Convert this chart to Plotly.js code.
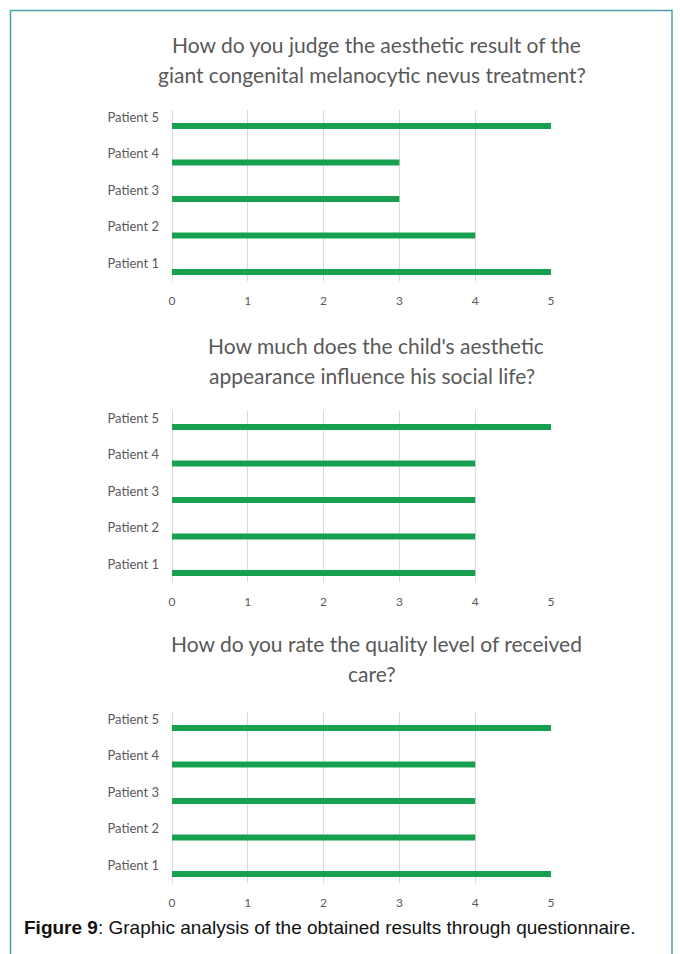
<!DOCTYPE html>
<html>
<head>
<meta charset="utf-8">
<script src="https://cdn.plot.ly/plotly-3.0.1.min.js"></script>
<style>
html,body{margin:0;padding:0;background:#fff;}
#chart{width:680px;height:954px;}
</style>
</head>
<body>
<div id="chart"></div>
<script>
const patients = ['Patient 1', 'Patient 2', 'Patient 3', 'Patient 4', 'Patient 5'];
const q1Values = [5, 4, 3, 3, 5];
const q2Values = [4, 4, 4, 4, 5];
const q3Values = [5, 4, 4, 4, 5];
const xTicks = [0, 1, 2, 3, 4, 5];
const titles = [
  'How do you judge the aesthetic result of the<br>giant congenital melanocytic nevus treatment?',
  "How much does the child's aesthetic<br>appearance influence his social life?",
  'How do you rate the quality level of received<br>care?'
];
const captionText = '<b>Figure 9</b>: Graphic analysis of the obtained results through questionnaire.';

const W = 680, H = 954;
const fy = p => 1 - p / H;
const fx = p => p / W;

const green = '#17a04f';
const gray = '#595959';
const series = [q1Values, q2Values, q3Values];
// pixel layout of the three plot areas (top, bottom)
const panels = [
  {top: 109.6, bottom: 281.2, t1: 45, t2: 75},
  {top: 410.6, bottom: 582.2, t1: 345, t2: 375},
  {top: 711.6, bottom: 883.2, t1: 643, t2: 673}
];

const data = series.map((vals, i) => ({
  type: 'bar',
  orientation: 'h',
  x: vals,
  y: patients,
  xaxis: i === 0 ? 'x' : 'x' + (i + 1),
  yaxis: i === 0 ? 'y' : 'y' + (i + 1),
  width: 0.165,
  marker: {color: green, line: {width: 0}},
  hoverinfo: 'x+y',
  showlegend: false
}));

const layout = {
  width: W, height: H,
  margin: {l: 0, r: 0, t: 0, b: 0},
  paper_bgcolor: '#ffffff',
  plot_bgcolor: 'rgba(0,0,0,0)',
  font: {family: 'Lato, "Open Sans", sans-serif', color: gray},
  annotations: [],
  shapes: [
    {type: 'rect', xref: 'paper', yref: 'paper',
     x0: fx(10.5), x1: fx(672), y0: fy(970), y1: fy(10.5),
     line: {color: '#4aa3a6', width: 1.5}, fillcolor: 'rgba(0,0,0,0)', layer: 'above'}
  ]
};

panels.forEach((p, i) => {
  const sfx = i === 0 ? '' : String(i + 1);
  layout['xaxis' + sfx] = {
    domain: [fx(172), fx(551)],
    anchor: 'y' + sfx,
    range: [0, 5.0001],
    tickvals: xTicks,
    ticktext: xTicks.map(String),
    showgrid: true, gridcolor: '#d9d9d9', gridwidth: 1,
    zeroline: true, zerolinecolor: '#d9d9d9', zerolinewidth: 1,
    showline: false, ticks: '',
    tickfont: {size: 12, color: gray, family: 'Lato, sans-serif'},
    ticklabelstandoff: 11,
    fixedrange: true
  };
  layout['yaxis' + sfx] = {
    domain: [fy(p.bottom), fy(p.top)],
    anchor: 'x' + sfx,
    type: 'category',
    categoryorder: 'array', categoryarray: patients,
    range: [-0.25, 4.45],
    showgrid: false, zeroline: false, showline: false, ticks: '',
    tickfont: {size: 13, color: gray, family: 'Lato, sans-serif'},
    ticklabelstandoff: 12,
    ticklabelshift: -9,
    fixedrange: true
  };
  const lines = titles[i].split('<br>');
  [p.t1, p.t2].forEach((yy, k) => {
    if (lines[k] === undefined) return;
    layout.annotations.push({
      xref: 'paper', yref: 'paper', x: fx(k === 0 ? 376 : 372), y: fy(yy),
      xanchor: 'center', yanchor: 'middle', showarrow: false,
      text: lines[k],
      font: {size: 21, color: gray, family: 'Lato, "Open Sans", sans-serif'}
    });
  });
});

layout.annotations.push({
  xref: 'paper', yref: 'paper', x: fx(22), y: fy(927),
  xanchor: 'left', yanchor: 'middle', showarrow: false,
  text: captionText,
  font: {size: 19, color: '#111111', family: '"Liberation Sans", Arial, sans-serif'}
});

Plotly.newPlot('chart', data, layout, {displayModeBar: false, staticPlot: true});
</script>
</body>
</html>
